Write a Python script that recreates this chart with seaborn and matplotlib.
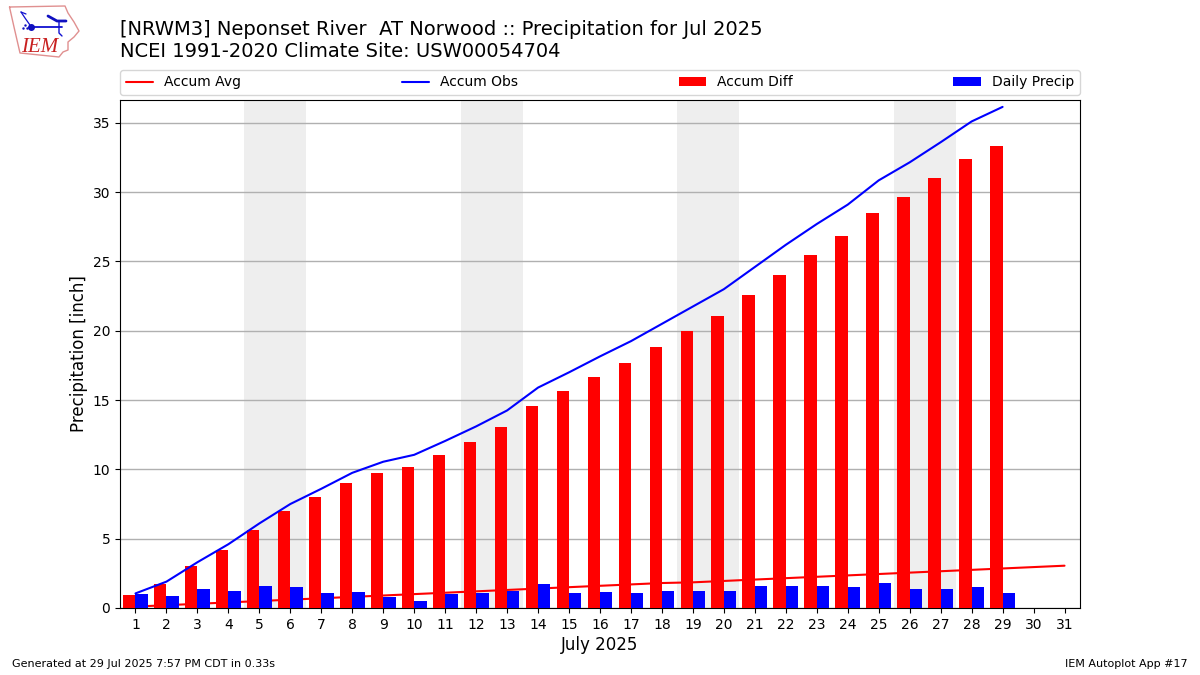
import numpy as np
import pandas as pd
import matplotlib
matplotlib.use("Agg")
import matplotlib.pyplot as plt
import seaborn as sns

days = np.arange(1, 32)
obs_days = np.arange(1, 30)
accum_avg = [0.10, 0.20, 0.30, 0.40, 0.50, 0.60, 0.70, 0.80, 0.90, 1.00, 1.10,
             1.20, 1.30, 1.40, 1.50, 1.60, 1.70, 1.80, 1.85, 1.95, 2.05, 2.15,
             2.25, 2.35, 2.45, 2.55, 2.65, 2.75, 2.85, 2.95, 3.05]
accum_obs = [1.05, 1.90, 3.30, 4.60, 6.10, 7.50, 8.60, 9.75, 10.55, 11.05, 12.05,
             13.10, 14.25, 15.90, 17.00, 18.15, 19.25, 20.50, 21.75, 23.00, 24.60,
             26.20, 27.70, 29.10, 30.85, 32.15, 33.60, 35.10, 36.15]
accum_diff = [0.90, 1.70, 3.00, 4.20, 5.60, 7.00, 8.00, 9.05, 9.75, 10.15, 11.05,
              11.95, 13.05, 14.55, 15.65, 16.65, 17.65, 18.80, 19.95, 21.10, 22.55,
              24.00, 25.45, 26.80, 28.50, 29.65, 31.00, 32.40, 33.30]
daily_precip = [1.00, 0.85, 1.40, 1.25, 1.55, 1.50, 1.10, 1.15, 0.80, 0.50, 1.00,
                1.05, 1.20, 1.70, 1.10, 1.15, 1.10, 1.25, 1.20, 1.20, 1.55, 1.55,
                1.55, 1.50, 1.80, 1.35, 1.40, 1.50, 1.05]
weekends = [(4.5, 6.5), (11.5, 13.5), (18.5, 20.5), (25.5, 27.5)]

sns.set_style("white")
plt.rcParams["font.family"] = ["DejaVu Sans"]
plt.rcParams.update({"text.color": "black", "axes.labelcolor": "black",
                     "xtick.color": "black", "ytick.color": "black"})

avg_df = pd.DataFrame({"day": days, "val": accum_avg})
obs_df = pd.DataFrame({"day": obs_days, "val": accum_obs, "diff": accum_diff, "daily": daily_precip})

fig = plt.figure(figsize=(12, 6.75), dpi=100)
ax = fig.add_axes([0.1, 0.0993, 0.8, 0.7526])

for lo, hi in weekends:
    ax.axvspan(lo, hi, color="#eeeeee", zorder=0, lw=0)

sns.lineplot(data=avg_df, x="day", y="val", color="red", ax=ax, label="Accum Avg", zorder=4)
sns.lineplot(data=obs_df, x="day", y="val", color="blue", ax=ax, label="Accum Obs", zorder=4)
sns.barplot(x=obs_df["day"] - 0.2, y=obs_df["diff"], native_scale=True, width=0.4,
            color="red", saturation=1, linewidth=0, ax=ax, label="Accum Diff", zorder=3)
sns.barplot(x=obs_df["day"] + 0.2, y=obs_df["daily"], native_scale=True, width=0.4,
            color="blue", saturation=1, linewidth=0, ax=ax, label="Daily Precip", zorder=5)

ax.set_xlim(0.5, 31.5)
ax.set_ylim(0, 36.65)
ax.set_xticks(days)
ax.set_xticklabels([str(d) for d in days])
ax.tick_params(left=True, bottom=True, labelsize=10, length=3.5, width=0.8)
ax.yaxis.grid(True, color="#b0b0b0", lw=1)
ax.set_axisbelow(True)
for sp in ax.spines.values():
    sp.set_edgecolor("black")
    sp.set_linewidth(0.8)
ax.set_xlabel("July 2025", fontsize=12, labelpad=3.4)
ax.set_ylabel("Precipitation [inch]", fontsize=12, labelpad=3)

ax.legend(loc="lower left", bbox_to_anchor=(0, 1.0098, 1, 0.05), mode="expand", ncol=4,
          fontsize=10, borderaxespad=0, frameon=True)

fig.text(0.1, 0.9095, "[NRWM3] Neponset River  AT Norwood :: Precipitation for Jul 2025\n"
         "NCEI 1991-2020 Climate Site: USW00054704", fontsize=14, va="bottom", ha="left",
         linespacing=1.18)
fig.text(0.01, 0.012, "Generated at 29 Jul 2025 7:57 PM CDT in 0.33s", fontsize=8)
fig.text(0.99, 0.012, "IEM Autoplot App #17", fontsize=8, ha="right")

# logo, traced roughly in pixels
logo = fig.add_axes([0, 0.91, 0.075, 0.09])
logo.set_xlim(0, 90)
logo.set_ylim(60.75, 0)
logo.axis("off")
logo.plot([9.5, 65, 68, 74, 79, 74, 68, 68, 63, 59, 20, 17, 14, 9.5],
          [7, 6, 13, 22, 31, 37, 42, 50, 52, 57, 53, 40, 27, 7], color="#e09090", lw=1)
logo.plot([31, 62], [26.5, 26.5], color="#1010d0", lw=1.3)
logo.plot([31, 25, 21], [26.5, 18, 12], color="#1010d0", lw=0.9)
logo.plot([21, 26], [12, 14], color="#1010d0", lw=0.9)
logo.plot([59, 59, 62], [21, 33, 36], color="#1010d0", lw=1)
logo.plot([48, 57, 66], [16, 21, 21], color="#1010c0", lw=2)
logo.plot([31], [26.5], "o", color="#1010c0", ms=4)
logo.plot([23, 25, 27], [28, 25, 28], ".", color="#1010c0", ms=1.5)
logo.text(21, 52, "IEM", color="#c82020", fontsize=15, family="Liberation Serif", style="italic")

fig.savefig("out.png", dpi=100)
